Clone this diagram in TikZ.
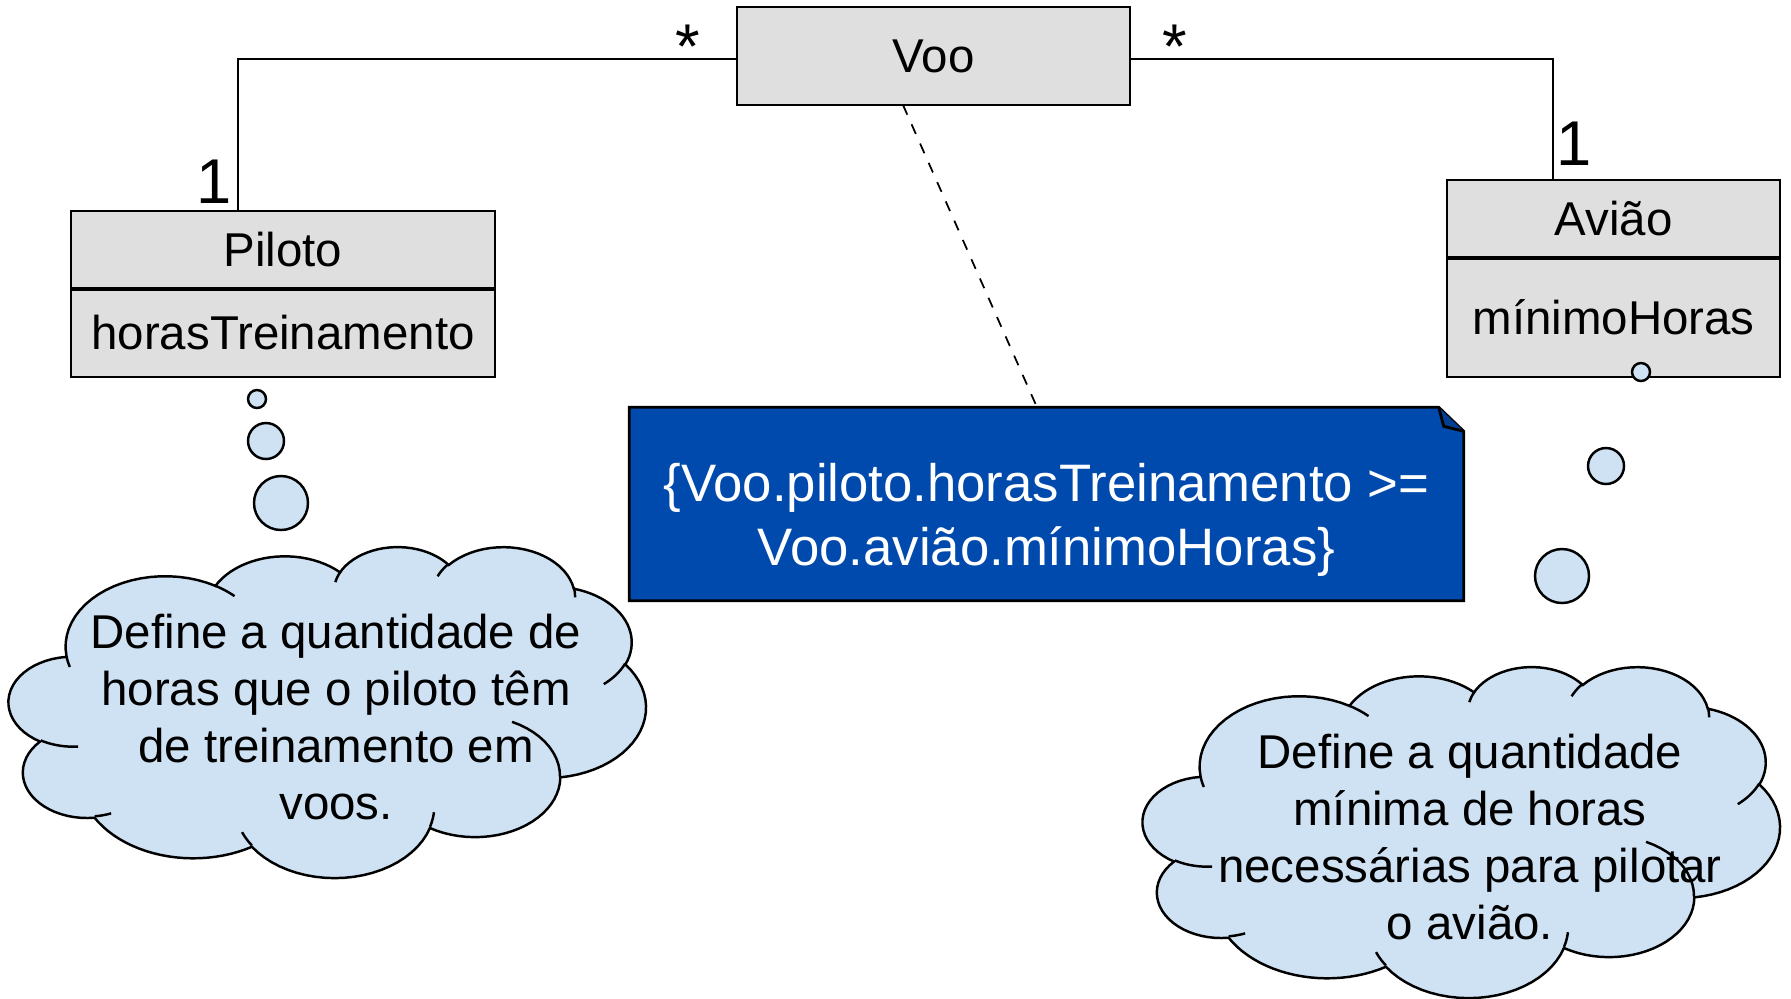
\documentclass[tikz,border=0pt]{standalone}
\usepackage{fontspec}
\setmainfont{Liberation Sans}
\usetikzlibrary{positioning}
\definecolor{boxgray}{RGB}{223,223,223}
\definecolor{notablue}{RGB}{0,74,173}
\definecolor{nuvemblue}{RGB}{207,226,243}

% contorno da nuvem: raio x / raio y / angulo inicial / varredura
\newcommand\arcosnuvem{67.53/91.90/-190.48748/123.78053, 53.33/72.67/-144.10238/89.94523,
  43.65/59.45/-145.80792/99.72302, 48.57/65.95/-130.98607/117.24173,
  53.33/72.73/-78.70888/109.02692, 67.75/92.20/-46.26725/130.269,
  57.85/78.67/0.62502/114.03333, 67.52/92.15/22.4516/115.17255,
  77.20/105.43/66.24263/75.71102, 43.60/59.36/-274.94208/146.73557,
  43.45/59.45/-246.8285/152.51885}
% arcos internos: x / y / raio x / raio y / angulo inicial / varredura
\newcommand\arcosinternos{46.93/261.77/43.45/59.45/86.742/26.4295,
  69.28/348.99/43.60/59.36/73.61047/11.44747, 164.78/390.90/67.52/92.15/137.62415/14.0811,
  288.27/347.51/67.52/92.15/6.45327/15.99835, 341.29/229.54/57.85/78.67/-70.29235/70.91737,
  417.98/153.54/53.33/72.73/30.31803/27.7515, 383.24/54.26/48.57/65.95/-13.74433/14.8589,
  290.78/39.52/48.57/65.95/-149.18145/18.19537, 221.41/47.20/43.65/59.45/-163.49427/17.68635,
  140.00/51.92/67.53/91.90/-66.70695/12.31935, 41.27/157.89/67.53/91.90/157.65435/11.85817}

% \nuvem{x}{y topo}{largura}{altura}
\newcommand\nuvem[4]{%
  \pgfmathsetmacro\nsx{#3/432}\pgfmathsetmacro\nsy{#4/432}%
  \xdef\nuvpx{39.00}\xdef\nuvpy{143.70}%
  \filldraw[nuvemlinha] ({#1+39.00*\nsx},{#2+143.70*\nsy})
    \foreach \nra/\nrb/\nst/\nsw in \arcosnuvem {
      \pgfextra{%
        \pgfmathparse{atan2(\nra*sin(\nst),\nrb*cos(\nst))}\xdef\nta{\pgfmathresult}%
        \pgfmathparse{\nuvpx-\nra*cos(\nta)}\xdef\ncx{\pgfmathresult}%
        \pgfmathparse{\nuvpy-\nrb*sin(\nta)}\xdef\ncy{\pgfmathresult}%
        \pgfmathparse{atan2(\nra*sin(\nst+\nsw),\nrb*cos(\nst+\nsw))}\xdef\ntb{\pgfmathresult}%
        \pgfmathparse{\ntb+360*round((\nta+\nsw-\ntb)/360)}\xdef\ntb{\pgfmathresult}%
        \pgfmathparse{\ncx+\nra*cos(\ntb)}\xdef\nuvpx{\pgfmathresult}%
        \pgfmathparse{\ncy+\nrb*sin(\ntb)}\xdef\nuvpy{\pgfmathresult}%
      }
      -- plot[domain=\nta:\ntb,samples=24] ({#1+(\ncx+\nra*cos(\x))*\nsx},{#2+(\ncy+\nrb*sin(\x))*\nsy})
    } -- cycle;
  \foreach \ix/\iy/\ira/\irb/\ist/\isw in \arcosinternos {
    \pgfmathsetmacro\ita{atan2(\ira*sin(\ist),\irb*cos(\ist))}
    \pgfmathsetmacro\itb{atan2(\ira*sin(\ist+\isw),\irb*cos(\ist+\isw))}
    \pgfmathsetmacro\itb{\itb+360*round((\ita+\isw-\itb)/360)}
    \pgfmathsetmacro\icx{\ix-\ira*cos(\ita)}
    \pgfmathsetmacro\icy{\iy-\irb*sin(\ita)}
    \draw[nuvemlinha,fill=none] plot[domain=\ita:\itb,samples=12]
      ({#1+(\icx+\ira*cos(\x))*\nsx},{#2+(\icy+\irb*sin(\x))*\nsy});
  }%
}

\begin{document}
\begin{tikzpicture}[x=1cm,y=-1cm,
    classe/.style={draw,fill=boxgray,line width=0.8pt,outer sep=0pt,inner sep=0pt,
      minimum width=#1,font=\fontsize{13.5}{16.2}\selectfont},
    mult/.style={anchor=base,inner sep=0pt,font=\fontsize{18}{20}\selectfont},
    nuvemlinha/.style={draw,fill=nuvemblue,line width=0.7pt},
    nuvemtexto/.style={align=center,inner sep=0pt,font=\fontsize{13.5}{16.2}\selectfont},
    bolha/.style={draw,fill=nuvemblue,line width=0.7pt}]
      \useasboundingbox (0,0) rectangle (17.91,9.98);
      % classes
      \node[classe=3.93cm,minimum height=0.98cm] (voo) at (9.335,0.56) {Voo};
      \node[classe=4.24cm,minimum height=0.78cm] (piloto) at (2.83,2.50) {Piloto};
      \node[classe=4.24cm,minimum height=0.88cm,below=0pt of piloto] (pilotoattr) {horasTreinamento};
      \node[classe=3.33cm,minimum height=0.78cm] (aviao) at (16.135,2.19) {Avião};
      \node[classe=3.33cm,minimum height=1.19cm,below=0pt of aviao] (aviaoattr) {mínimoHoras};
      \draw[line width=1.4pt] (piloto.south west) -- (piloto.south east);
      \draw[line width=1.4pt] (aviao.south west) -- (aviao.south east);
      % associacoes
      \draw[line width=0.6pt] ([yshift=-0.03cm]voo.west) -| ([xshift=-0.45cm]piloto.north);
      \draw[line width=0.6pt] ([yshift=-0.03cm]voo.east) -| ([xshift=-0.605cm]aviao.north);
      \node[mult] (multpiloto) at (6.88,0.68) {*};
      \node[mult] (multaviao) at (11.75,0.68) {*};
      \node[mult] (umpiloto) at (2.14,2.03) {1};
      \node[mult] (umaviao) at (15.74,1.65) {1};
      % restricao
      \node[minimum width=8.33cm,minimum height=1.92cm,inner sep=0pt] (nota) at (10.465,5.04) {};
      \draw[fill=notablue,line width=0.8pt] (nota.south west) -- (nota.north west)
        -- ([xshift=-0.25cm]nota.north east) -- ([yshift=-0.24cm]nota.north east)
        -- (nota.south east) -- cycle;
      \draw[fill=notablue!85!black,line width=0.8pt] ([xshift=-0.25cm]nota.north east)
        -- ([xshift=-0.20cm,yshift=-0.19cm]nota.north east) -- ([yshift=-0.24cm]nota.north east);
      \node[align=center,text=white,font=\fontsize{15}{18.2}\selectfont] (notatexto)
        at ([yshift=-0.16cm]nota.center) {\{Voo.piloto.horasTreinamento >=\\Voo.avião.mínimoHoras\}};
      \draw[dashed,line width=0.5pt] ([xshift=-0.305cm]voo.south) -- ([xshift=-0.095cm]nota.north);
      % comentarios
      \draw[bolha] (2.57,3.99) circle (0.09);
      \draw[bolha] (2.66,4.41) circle (0.18);
      \draw[bolha] (2.81,5.03) circle (0.27);
      \nuvem{0.09}{5.46}{6.37}{3.31}
      \node[nuvemtexto] (textopiloto) at (3.36,7.17)
        {Define a quantidade de\\horas que o piloto têm\\de treinamento em\\voos.};
      \draw[bolha] (16.41,3.72) circle (0.09);
      \draw[bolha] (16.06,4.66) circle (0.18);
      \draw[bolha] (15.62,5.76) circle (0.27);
      \nuvem{11.43}{6.66}{6.37}{3.31}
      \node[nuvemtexto] (textoaviao) at (14.70,8.37)
        {Define a quantidade\\mínima de horas\\necessárias para pilotar\\o avião.};
    \end{tikzpicture}
\end{document}
